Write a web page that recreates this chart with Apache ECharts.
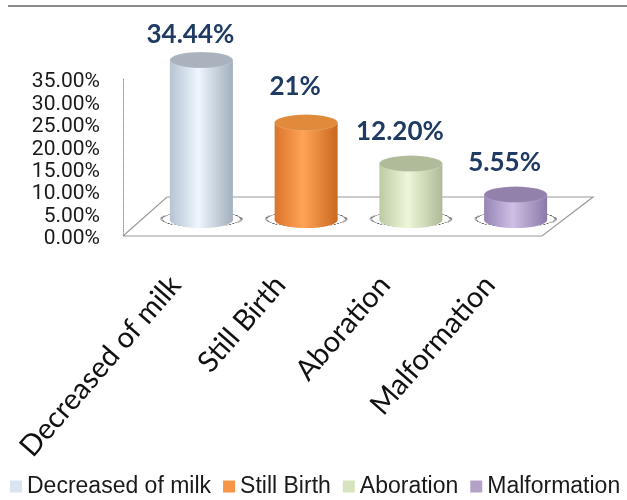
<!DOCTYPE html>
<html>
<head>
<meta charset="utf-8">
<script src="https://cdn.jsdelivr.net/npm/echarts@6/dist/echarts.min.js"></script>
<style>
    html, body { margin: 0; padding: 0; background: #ffffff; }
    #chart { width: 627px; height: 500px; }
</style>
</head>
<body>
<div id="chart"></div>
<script>
const categories = ["Decreased of milk", "Still Birth", "Aboration", "Malformation"];
const values = [34.44, 21, 12.2, 5.55];
const valueLabels = ["34.44%", "21%", "12.20%", "5.55%"];
const yTicks = [0, 5, 10, 15, 20, 25, 30, 35];

const bodyColors = [
    ["#b6c3d2", "#eef6fe", "#a3afbd"],
    ["#db742c", "#ffa456", "#ca6720"],
    ["#bccaa4", "#edf7d9", "#aebb96"],
    ["#9685b4", "#cdbfe5", "#8b7aa8"]
];
const capColors = ["#aab2be", "#e08a3c", "#b0bb9a", "#9282ab"];
const legendColors = ["#dbe5f1", "#f79646", "#d7e4bd", "#b3a2c7"];
const labelDistance = [12, 23, 19, 19];

function gradient(stops) {
    return new echarts.graphic.LinearGradient(0, 0, 1, 0, [
        { offset: 0, color: stops[0] },
        { offset: 0.45, color: stops[1] },
        { offset: 1, color: stops[2] }
    ]);
}

// dotted shadow ring under each cylinder
function renderShadow(params, api) {
    const pt = api.coord([api.value(0), 0]);
    return {
        type: "circle",
        x: pt[0],
        y: pt[1] - 1,
        scaleY: 0.19,
        shape: { cx: 0, cy: 0, r: 40 },
        style: {
            fill: null,
            stroke: "#000000",
            lineWidth: 2.6,
            lineDash: [2, 3],
            strokeNoScale: true
        }
    };
}

const chart = echarts.init(document.getElementById("chart"));

const barSeries = categories.map((name, i) => ({
    name: name,
    type: "bar",
    xAxisIndex: 1,
    yAxisIndex: 1,
    barWidth: 63,
    barGap: "-100%",
    z: 3,
    itemStyle: { color: gradient(bodyColors[i]) },
    label: {
        show: true,
        position: "top",
        distance: labelDistance[i],
        offset: [-11, 0],
        formatter: () => valueLabels[i],
        color: "#1f3b63",
        fontFamily: "Lato",
        fontWeight: "bold",
        fontSize: 26
    },
    data: values.map((v, j) => (j === i ? v : "-"))
}));

chart.setOption({
    animation: false,
    grid: [
        { left: 123, top: 79, width: 419, height: 157 },
        { left: 149, top: 57, width: 419, height: 163 }
    ],
    xAxis: [
        {
            type: "category",
            gridIndex: 0,
            data: categories,
            axisLine: { show: false },
            axisTick: { show: false },
            axisLabel: {
                interval: 0,
                rotate: 49,
                margin: 44,
                color: "#111111",
                fontFamily: "Lato",
                fontSize: 29
            }
        },
        {
            type: "category",
            gridIndex: 1,
            data: categories,
            show: false
        }
    ],
    yAxis: [
        {
            type: "value",
            gridIndex: 0,
            min: yTicks[0],
            max: yTicks[yTicks.length - 1],
            interval: 5,
            axisLine: {
                show: true,
                lineStyle: { color: "#9a9a9a", type: "dotted", width: 1 }
            },
            axisTick: { show: false },
            splitLine: { show: false },
            axisLabel: {
                margin: 23,
                formatter: v => "{t|" + v.toFixed(2) + "%}",
                rich: {
                    t: {
                        padding: [6, 0, 0, 0],
                        color: "#1a1a1a",
                        fontFamily: "Roboto",
                        fontSize: 21
                    }
                }
            }
        },
        {
            type: "value",
            gridIndex: 1,
            min: 0,
            max: 35,
            show: false
        }
    ],
    legend: {
        left: 10,
        top: 475,
        width: 617,
        padding: 0,
        icon: "rect",
        itemWidth: 12,
        itemHeight: 12,
        itemGap: 12,
        textStyle: { fontFamily: "Liberation Sans", fontSize: 23, color: "#1a1a1a" },
        data: categories.map((name, i) => ({ name: name, itemStyle: { color: legendColors[i] } }))
    },
    graphic: [
        {
            type: "line",
            shape: { x1: 8, y1: 6, x2: 627, y2: 6 },
            style: { stroke: "#8c8c8c", lineWidth: 2 }
        },
        {
            type: "polyline",
            z: 0,
            shape: { points: [[123, 236], [167, 197], [593, 197], [542, 236], [123, 236]] },
            style: { stroke: "#9a9a9a", lineWidth: 1.2, fill: null }
        }
    ],
    series: [
        {
            type: "custom",
            xAxisIndex: 1,
            yAxisIndex: 1,
            z: 1,
            renderItem: renderShadow,
            encode: { x: 0, y: 1 },
            data: values.map((v, i) => [i, v])
        },
        {
            type: "pictorialBar",
            xAxisIndex: 1,
            yAxisIndex: 1,
            symbol: "circle",
            symbolSize: [63, 16],
            symbolOffset: [0, "50%"],
            z: 2,
            data: values.map((v, i) => ({ value: v, itemStyle: { color: gradient(bodyColors[i]) } }))
        },
        ...barSeries,
        {
            type: "pictorialBar",
            xAxisIndex: 1,
            yAxisIndex: 1,
            symbol: "circle",
            symbolSize: [63, 16],
            symbolPosition: "end",
            symbolOffset: [0, "-50%"],
            z: 4,
            data: values.map((v, i) => ({
                value: v,
                itemStyle: { color: capColors[i], borderColor: "#ffffff", borderWidth: 1.5 }
            }))
        }
    ]
});
</script>
</body>
</html>
